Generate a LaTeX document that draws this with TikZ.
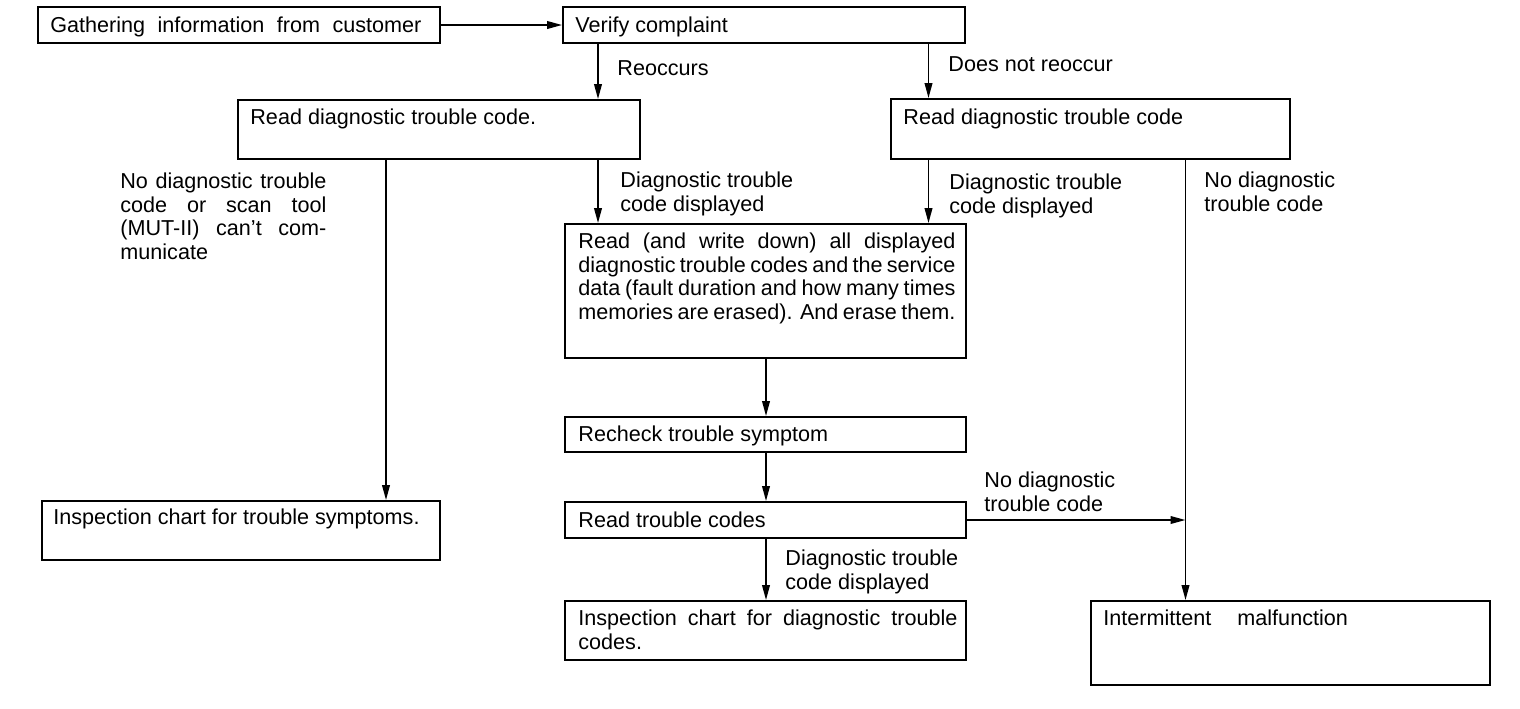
\documentclass[tikz,border=0pt]{standalone}
\usepackage{fontspec}
\setmainfont{Liberation Sans}
\usetikzlibrary{arrows.meta,fit}
\newcommand{\jl}[2]{\makebox[#1][s]{#2}}
\newcommand{\fst}{\rule{0pt}{8pt}}
\begin{document}
\begin{tikzpicture}[x=0.5pt,y=-0.5pt,
  box/.style={draw, line width=0.9pt, inner sep=0pt},
  txt/.style={anchor=north west, inner sep=0pt, align=left, font=\fontsize{10.8}{11.8}\selectfont},
  arr/.style={line width=0.9pt, -{Triangle[length=7.5pt,width=3.8pt]}}]
\useasboundingbox[fill=white] (0,0) rectangle (1520,708);
% boxes
\node[box, fit={(38,7)(440,43)}] (b1) {};
\node[box, fit={(563,7)(965,43)}] (b2) {};
\node[box, fit={(238,100)(640,159)}] (b3) {};
\node[box, fit={(891,99)(1290,159)}] (b4) {};
\node[box, fit={(565,224)(966,358)}] (b6) {};
\node[box, fit={(565,417)(966,452)}] (b7) {};
\node[box, fit={(565,502)(966,538)}] (b8) {};
\node[box, fit={(565,601)(966,660)}] (b10) {};
\node[box, fit={(42,501)(440,560)}] (b5) {};
\node[box, fit={(1091,601)(1490,685)}] (b9) {};
% x positions of connectors
\coordinate (c386) at (386,0);
\coordinate (c598) at (598,0);
\coordinate (c766) at (766,0);
\coordinate (c928) at (928.5,0);
\coordinate (c1185) at (1185.5,0);
% connectors
\draw[arr] (b1.east) -- (b2.west);
\draw[arr] (c598 |- b2.south) -- (c598 |- b3.north);
\draw[arr] (c928 |- b2.south) -- (c928 |- b4.north);
\draw[arr] (c386 |- b3.south) -- (c386 |- b5.north);
\draw[arr] (c598 |- b3.south) -- (c598 |- b6.north);
\draw[arr] (c928 |- b4.south) -- (c928 |- b6.north);
\draw[arr] (c1185 |- b4.south) -- (c1185 |- b9.north);
\draw[arr] (c766 |- b6.south) -- (c766 |- b7.north);
\draw[arr] (c766 |- b7.south) -- (c766 |- b8.north);
\draw[arr] (b8.east) -- (c1185 |- b8.east);
\draw[arr] (c766 |- b8.south) -- (c766 |- b10.north);
% box texts
\node[txt] (t1) at (50,16) {\fst\jl{185.5pt}{Gathering information from customer}};
\node[txt] (t2) at (575,16) {\fst Verify complaint};
\node[txt] (t3) at (250,108) {\fst Read diagnostic trouble code.};
\node[txt] (t4) at (903,108) {\fst Read diagnostic trouble code};
\node[txt] (t6) at (578,232) {\fst\jl{188.5pt}{Read (and write down) all displayed}\\
  \jl{188.5pt}{diagnostic trouble codes and the service}\\
  \jl{188.5pt}{data (fault duration and how many times}\\
  \jl{188.5pt}{memories are erased). And erase them.}};
\node[txt] (t7) at (578,425) {\fst Recheck trouble symptom};
\node[txt] (t8) at (578,511) {\fst Read trouble codes};
\node[txt] (t10) at (578,609) {\fst\jl{189.5pt}{Inspection chart for diagnostic trouble}\\codes.};
\node[txt] (t5) at (53,508) {\fst Inspection chart for trouble symptoms.};
\node[txt] (t9) at (1103,609) {\fst Intermittent\hspace{13pt}malfunction};
% connector labels
\node[txt] (l1) at (617,59) {\fst Reoccurs};
\node[txt] (l2) at (948,55) {\fst Does not reoccur};
\node[txt] (l3) at (120,172) {\fst\jl{103pt}{No diagnostic trouble}\\
  \jl{103pt}{code or scan tool}\\
  \jl{103pt}{(MUT-II) can't com-}\\
  municate};
\node[txt] (l4) at (620,171) {\fst Diagnostic trouble\\code displayed};
\node[txt] (l5) at (949,173) {\fst Diagnostic trouble\\code displayed};
\node[txt] (l6) at (1204,171) {\fst No diagnostic\\trouble code};
\node[txt] (l7) at (984,471) {\fst No diagnostic\\trouble code};
\node[txt] (l8) at (785,549) {\fst Diagnostic trouble\\code displayed};
\end{tikzpicture}
\end{document}
